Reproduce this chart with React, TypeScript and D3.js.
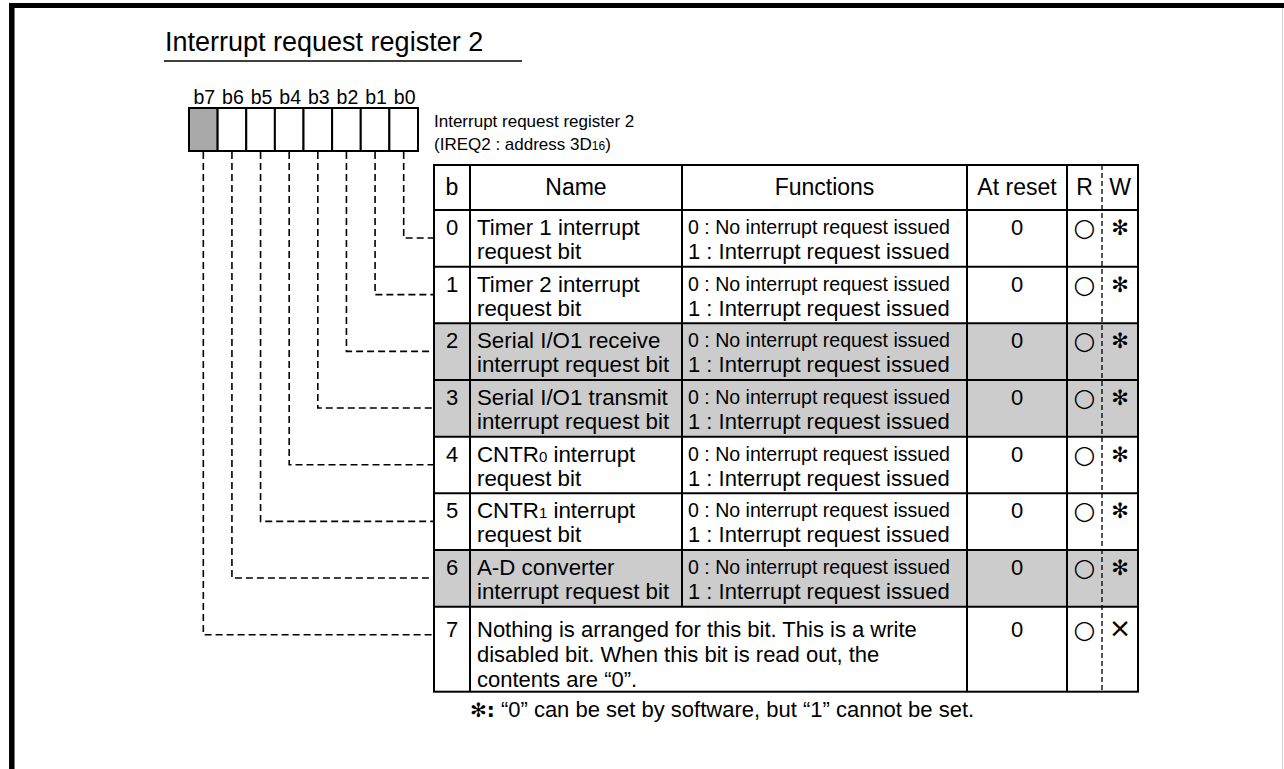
import * as d3 from "d3";

const bits = ["b7", "b6", "b5", "b4", "b3", "b2", "b1", "b0"];
const rowBits = [0, 1, 2, 3, 4, 5, 6, 7];
const rowNames: [string, string, string?][] = [
  ["Timer 1 interrupt", "request bit"],
  ["Timer 2 interrupt", "request bit"],
  ["Serial I/O1 receive", "interrupt request bit"],
  ["Serial I/O1 transmit", "interrupt request bit"],
  ["CNTR", "request bit", "0"],
  ["CNTR", "request bit", "1"],
  ["A-D converter", "interrupt request bit"],
];
const lastRowText = [
  "Nothing is arranged for this bit. This is a write",
  "disabled bit. When this bit is read out, the",
  "contents are \u201c0\u201d.",
];
const func0 = "0 : No interrupt request issued";
const func1 = "1 : Interrupt request issued";
const resetValues = ["0", "0", "0", "0", "0", "0", "0", "0"];
const readMarks = ["\u25cb", "\u25cb", "\u25cb", "\u25cb", "\u25cb", "\u25cb", "\u25cb", "\u25cb"];
const writeMarks = ["\u273b", "\u273b", "\u273b", "\u273b", "\u273b", "\u273b", "\u273b", "\u00d7"];
const shadedRows = [2, 3, 6];
const headers = ["b", "Name", "Functions", "At reset", "R", "W"];

const W = 1284;
const H = 769;
const FONT = "'Liberation Sans', Arial, sans-serif";

export default function App() {
  // register cells
  const bx = d3.scaleBand().domain(bits).range([189, 418]);
  const regTop = 108;
  const regBottom = 151;

  // table geometry
  const cols = [434, 470, 682, 967, 1067, 1138];
  const rwSplit = 1102;
  const headTop = 165;
  const headBottom = 210;
  const rowY = d3.scaleLinear().domain([0, 7]).range([headBottom, 606.7]);
  const tableBottom = 691.7;
  const rowTop = (i: number) => rowY(i);
  const rowBottom = (i: number) => (i < 7 ? rowY(i + 1) : tableBottom);
  const lineY = (i: number) => rowTop(i) + 28;

  const colMid = (c: number) => (cols[c] + cols[c + 1]) / 2;
  const rMid = (cols[4] + rwSplit) / 2;
  const wMid = (rwSplit + cols[5]) / 2;

  return (
    <svg
      width={W}
      height={H}
      viewBox={`0 0 ${W} ${H}`}
      style={{ position: "absolute", left: 0, top: 0, background: "#fff" }}
      fontFamily={FONT}
    >
      {/* frame */}
      <line x1={9} x2={W} y1={5.5} y2={5.5} stroke="#000" strokeWidth={5} />
      <line x1={11.8} x2={11.8} y1={3} y2={H} stroke="#000" strokeWidth={5.5} />
      <line x1={1282.5} x2={1282.5} y1={8} y2={H} stroke="#d0d0d0" strokeWidth={1} />

      {/* title */}
      <text x={165} y={51} fontSize={27} fill="#000">Interrupt request register 2</text>
      <line x1={164} x2={522} y1={61} y2={61} stroke="#000" strokeWidth={1.5} />

      {/* bit labels */}
      {bits.map((b) => (
        <text key={b} x={(bx(b) ?? 0) + bx.bandwidth() / 2 + 1} y={104} fontSize={19.5} textAnchor="middle">
          {b}
        </text>
      ))}

      {/* register cells */}
      {bits.map((b, i) => (
        <rect
          key={"c" + b}
          x={bx(b)}
          y={regTop}
          width={bx.bandwidth()}
          height={regBottom - regTop}
          fill={i === 0 ? "#a9a9a9" : "#fff"}
          stroke="#000"
          strokeWidth={2}
        />
      ))}

      <text x={434} y={127} fontSize={17}>Interrupt request register 2</text>
      <text x={434} y={150} fontSize={17}>
        (IREQ2 : address 3D<tspan fontSize={12}>16</tspan>)
      </text>

      {/* dashed connectors */}
      <g fill="none" stroke="#000" strokeWidth={1.6} strokeDasharray="7,4">
        {rowBits.map((r) => {
          const x = (bx("b" + r) ?? 0) + bx.bandwidth() / 2;
          return <path key={"d" + r} d={`M${x},${regBottom + 1}V${lineY(r)}H${cols[0]}`} />;
        })}
      </g>

      {/* shaded rows */}
      {shadedRows.map((r) => (
        <rect key={"s" + r} x={cols[0]} y={rowTop(r)} width={cols[5] - cols[0]} height={rowBottom(r) - rowTop(r)} fill="#cccccc" />
      ))}

      {/* header */}
      {headers.map((h, i) => (
        <text
          key={h}
          x={i < 4 ? colMid(i) : i === 4 ? rMid : wMid}
          y={headTop + 30}
          fontSize={23}
          textAnchor="middle"
        >
          {h}
        </text>
      ))}

      {/* rows */}
      {rowBits.map((r) => {
        const t = rowTop(r);
        const base = r < 7 ? t + 25 : t + 30;
        const isCross = writeMarks[r] === "\u00d7";
        return (
          <g key={"r" + r}>
            <text x={colMid(0)} y={base} fontSize={22} textAnchor="middle">{r}</text>
            {r < 7 ? (
              <>
                <text x={477} y={t + 25} fontSize={22.3}>
                  {rowNames[r][0]}
                  {rowNames[r][2] ? (
                    <>
                      <tspan fontSize={15}>{rowNames[r][2]}</tspan>
                      <tspan> interrupt</tspan>
                    </>
                  ) : null}
                </text>
                <text x={477} y={t + 49} fontSize={22.3}>{rowNames[r][1]}</text>
                <text x={688} y={t + 24} fontSize={20} textLength={262} lengthAdjust="spacingAndGlyphs">
                  {func0}
                </text>
                <text x={688} y={t + 49} fontSize={22}>{func1}</text>
              </>
            ) : (
              lastRowText.map((s, k) => (
                <text key={k} x={477} y={t + 30 + k * 25} fontSize={22}>{s}</text>
              ))
            )}
            <text x={colMid(3)} y={base} fontSize={22} textAnchor="middle">{resetValues[r]}</text>
            <text x={rMid} y={base + 1} fontSize={25} textAnchor="middle" fontFamily="'DejaVu Sans'">
              {readMarks[r]}
            </text>
            <text
              x={wMid}
              y={base}
              fontSize={isCross ? 27 : 21}
              textAnchor="middle"
              fontFamily="'DejaVu Sans'"
              fontWeight={isCross ? "normal" : "bold"}
            >
              {writeMarks[r]}
            </text>
          </g>
        );
      })}

      {/* table lines */}
      <g stroke="#000" strokeWidth={2} fill="none">
        <rect x={cols[0]} y={headTop} width={cols[5] - cols[0]} height={tableBottom - headTop} />
        <line x1={cols[0]} x2={cols[5]} y1={headBottom} y2={headBottom} />
        {rowBits.slice(1).map((r) => (
          <line key={"h" + r} x1={cols[0]} x2={cols[5]} y1={rowTop(r)} y2={rowTop(r)} />
        ))}
        {[1, 3, 4].map((c) => (
          <line key={"v" + c} x1={cols[c]} x2={cols[c]} y1={headTop} y2={tableBottom} />
        ))}
        <line x1={cols[2]} x2={cols[2]} y1={headTop} y2={rowTop(7)} />
      </g>
      <line x1={rwSplit} x2={rwSplit} y1={headTop} y2={tableBottom} stroke="#000" strokeWidth={1.3} strokeDasharray="5,3" />

      {/* footnote */}
      <text x={470} y={717} fontSize={22}>
        <tspan fontFamily="'DejaVu Sans'" fontWeight="bold" fontSize={20}>{"\u273b:"}</tspan>
        {" \u201c0\u201d can be set by software, but \u201c1\u201d cannot be set."}
      </text>
    </svg>
  );
}
